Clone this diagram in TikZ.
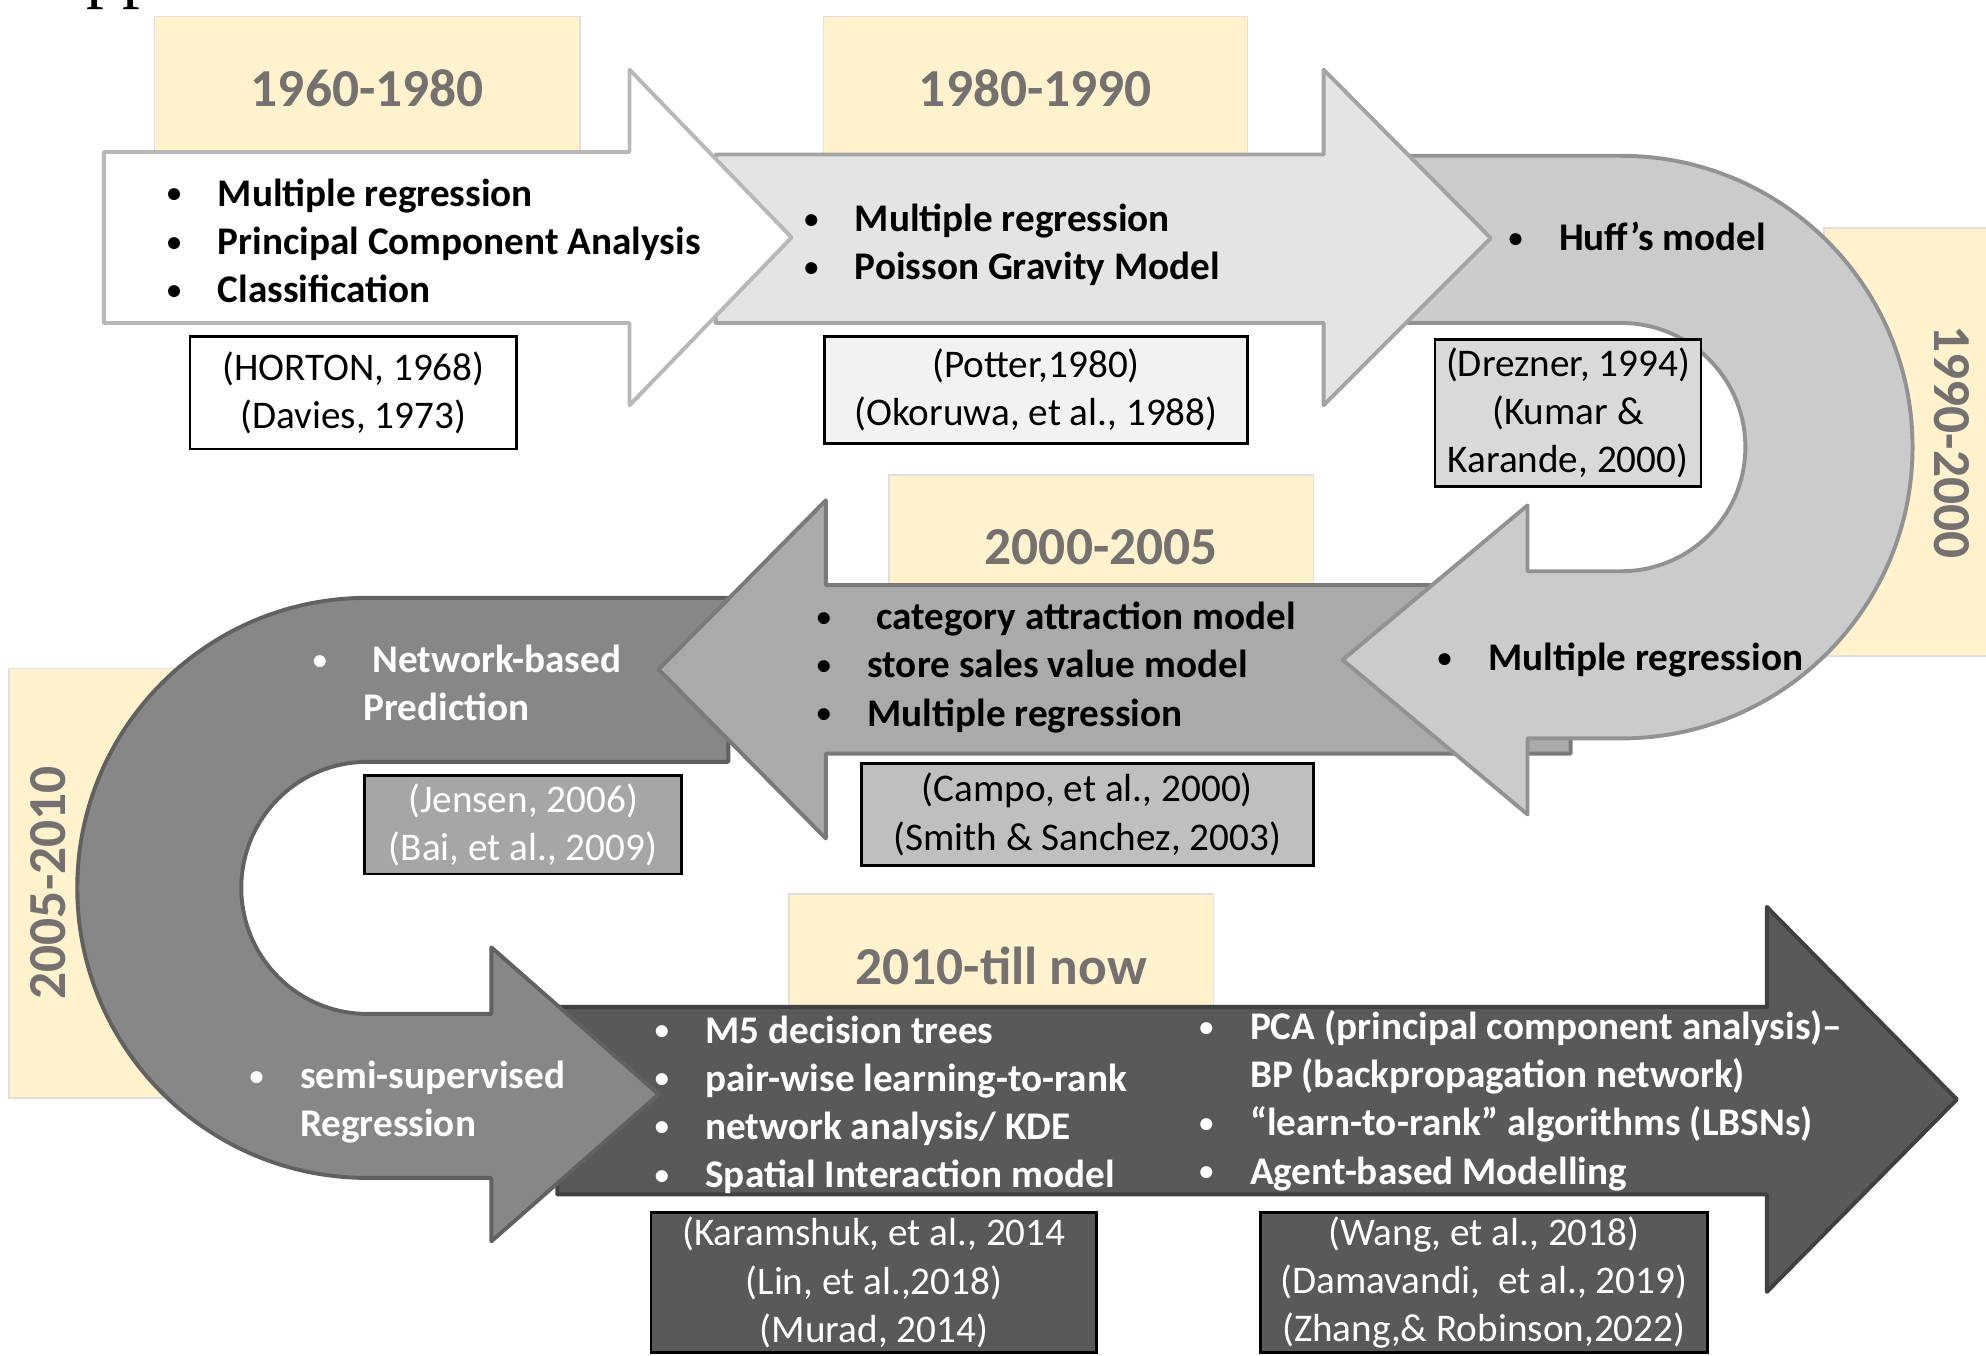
\documentclass[tikz,border=0pt]{standalone}
\usepackage{fontspec}
\setmainfont{Carlito}
\newfontfamily\cutserif{Liberation Serif}
\usepackage{graphicx}
\usepackage{tikz}
\definecolor{yearfill}{HTML}{FFF2CC}
\definecolor{yeargray}{HTML}{767171}
\definecolor{toneB}{HTML}{E4E4E4}
\definecolor{toneC}{HTML}{CBCBCB}
\definecolor{toneD}{HTML}{AAAAAA}
\definecolor{toneE}{HTML}{878787}
\definecolor{toneF}{HTML}{595959}
\newcommand{\bl}{\makebox[0pt]{\raisebox{0.9pt}{\scalebox{0.72}{\textbullet}}}\hspace{4.3mm}}

\begin{document}
\begin{tikzpicture}[x=0.125mm,y=0.125mm,
    yeartxt/.style={inner sep=0pt,text=yeargray,font=\fontsize{15}{18}\selectfont\bfseries},
    yearbox/.style={yeartxt,fill=yearfill,draw=black!12,line width=0.4pt},
    band/.style={fill=#1,draw=#1!72!black,line width=1.1pt,line join=round},
    items/.style={anchor=west,align=left,inner sep=0pt,font=\fontsize{11}{13.5}\selectfont\bfseries},
    cite/.style={draw=black,line width=0.8pt,align=center,inner sep=0pt,font=\fontsize{11}{13.5}\selectfont}]
    \useasboundingbox (0,0) rectangle (1568,1070);
    \node[anchor=base west,inner sep=0pt,font=\cutserif\fontsize{20}{24}\selectfont] (pp_cut) at (68,1074) {pp};
    \node[yearbox,minimum width=42mm,minimum height=14.25mm] (yr_1960) at (290,1000) {1960-1980};
    \node[yearbox,minimum width=41.875mm,minimum height=14.25mm] (yr_1980) at (817.5,1000) {1980-1990};
    \node[yearbox,rotate=-90,minimum width=42.25mm,minimum height=25.25mm] (yr_1990) at (1541,721) {1990-2000};
    \node[yearbox,minimum width=41.875mm,minimum height=14.25mm] (yr_2000) at (869.5,638) {2000-2005};
    \node[yearbox,minimum width=17.625mm,minimum height=42.375mm] (box_2005) at (77.5,372.5) {};
    \node[yeartxt,rotate=90] (yr_2005) at (38,373) {2005-2010};
    \node[yearbox,minimum width=41.875mm,minimum height=14.25mm] (yr_2010) at (790.5,307) {2010-till now};
    \draw[band=toneF] (440,275) -- (1395,275) -- (1395,354) -- (1545,202) -- (1395,50) -- (1395,127) -- (440,127) -- cycle;
    \draw[band=toneE] (575,598) -- (290,598) arc[start angle=90,end angle=270,radius=229] -- (388,140) -- (388,90) -- (520,206)
        -- (388,322) -- (388,269.5) -- (290,269.5) arc[start angle=270,end angle=90,radius=99.5] -- (575,468.5) -- cycle;
    \draw[band=toneD] (1240,608) -- (652,608) -- (652,675) -- (520,541.5) -- (652,408) -- (652,475) -- (1240,475) -- cycle;
    \draw[band=toneC] (1111,947) -- (1280,947) arc[start angle=90,end angle=-90,radius=230] -- (1206,487) -- (1206,427) -- (1060,549)
        -- (1206,671) -- (1206,619) -- (1280,619) arc[start angle=-90,end angle=90,radius=98] -- (1111,815) -- cycle;
    \draw[band=toneB] (565,948) -- (1045,948) -- (1045,1015) -- (1177,882) -- (1045,750) -- (1045,815) -- (565,815) -- cycle;
    \draw[band=white] (82,950) -- (497,950) -- (497,1015) -- (625,882.5) -- (497,750) -- (497,815) -- (82,815) -- cycle;
    \node[items] (m_1960) at (137,880) {\bl Multiple regression\\ \bl Principal Component Analysis\\ \bl Classification};
    \node[items] (m_1980) at (640,876.5) {\bl Multiple regression\\ \bl Poisson Gravity Model};
    \node[items] (m_1990a) at (1196,883) {\bl Huff’s model};
    \node[items] (m_1990b) at (1140,549) {\bl Multiple regression};
    \node[items] (m_2000) at (650,543) {\bl\ category attraction model\\ \bl store sales value model\\ \bl Multiple regression};
    \node[items,text=white] (m_2005a) at (252,531) {\bl\ Network-based\\ \hspace*{4.3mm}Prediction};
    \node[items,text=white] (m_2005b) at (202,200) {\bl semi-supervised\\ \hspace*{4.3mm}Regression};
    \node[items,text=white] (m_2010a) at (522,198) {\bl M5 decision trees\\ \bl pair-wise learning-to-rank\\ \bl network analysis/ KDE\\ \bl Spatial Interaction model};
    \node[items,text=white] (m_2010b) at (952,201) {\bl PCA (principal component analysis)–\\ \hspace*{4.3mm}BP (backpropagation network)\\ \bl “learn-to-rank” algorithms (LBSNs)\\ \bl Agent-based Modelling};
    \node[cite,fill=white,minimum width=32.25mm,minimum height=11.125mm] (c_1960) at (279,760) {(HORTON, 1968)\\(Davies, 1973)};
    \node[cite,fill=black!5,minimum width=41.75mm,minimum height=10.5mm] (c_1980) at (818,762) {(Potter,1980)\\(Okoruwa, et al., 1988)};
    \node[cite,fill=black!15,minimum width=26.25mm,minimum height=14.5mm] (c_1990) at (1238,744) {(Drezner, 1994)\\(Kumar \&\\Karande, 2000)};
    \node[cite,fill=black!25,minimum width=44.625mm,minimum height=10mm] (c_2000) at (858.5,427) {(Campo, et al., 2000)\\(Smith \& Sanchez, 2003)};
    \node[cite,fill=black!35,text=white,minimum width=31.25mm,minimum height=9.75mm] (c_2005) at (413,419) {(Jensen, 2006)\\(Bai, et al., 2009)};
    \node[cite,fill=toneF,text=white,minimum width=44mm,minimum height=13.875mm] (c_2010a) at (690,57.5) {(Karamshuk, et al., 2014\\(Lin, et al.,2018)\\(Murad, 2014)};
    \node[cite,fill=toneF,text=white,minimum width=44.125mm,minimum height=13.875mm] (c_2010b) at (1171.5,57.5) {(Wang, et al., 2018)\\(Damavandi,\ \ et al., 2019)\\(Zhang,\& Robinson,2022)};
\end{tikzpicture}
\end{document}
